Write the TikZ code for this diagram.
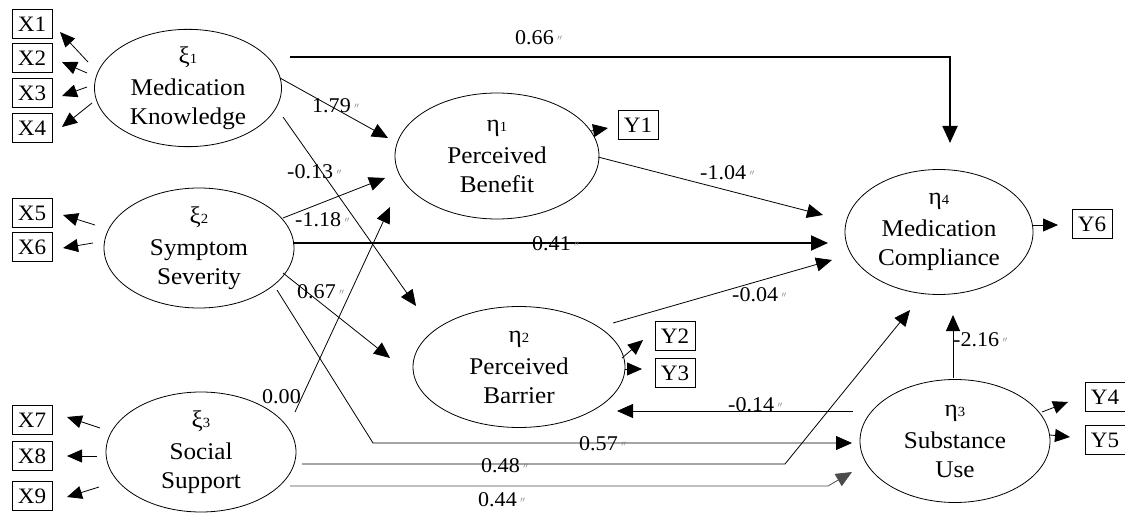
\documentclass[tikz,border=0pt]{standalone}
\usepackage{fontspec}
\setmainfont{Liberation Serif}[FakeStretch=1.05]
\usetikzlibrary{arrows.meta,calc,shapes.geometric}
\newcommand{\lv}[2]{{\fontsize{24}{24}\selectfont #1\fontsize{14}{14}\selectfont #2}}
\newcommand{\sg}{\,{\color{gray}\fontsize{11}{11}\selectfont$''$}}
\begin{document}
\begin{tikzpicture}[x=1pt,y=-1pt,
 lat/.style={ellipse,draw,line width=0.8pt,inner sep=0pt,align=center,font=\fontsize{24}{29}\selectfont},
 obs/.style={draw,line width=0.8pt,minimum width=40pt,minimum height=29pt,inner sep=0pt,font=\fontsize{22}{24}\selectfont},
 arr/.style={line width=0.8pt,-{Triangle[length=16pt,width=14pt]}},
 tarr/.style={line width=1.9pt,-{Triangle[length=17pt,width=15pt]}},
 ind/.style={line width=0.8pt,-{Triangle[length=15pt,width=13pt]}},
 coef/.style={anchor=west,inner sep=0pt,font=\fontsize{21}{22}\selectfont}]
\useasboundingbox (0,0) rectangle (1125,516);
% latent variables
\node[lat,minimum width=187pt,minimum height=112pt] (k1) at (188,88) {\lv{ξ}{1}\\[3pt]Medication\\Knowledge};
\node[lat,minimum width=190pt,minimum height=120pt] (s2) at (199,248) {\lv{ξ}{2}\\[3pt]Symptom\\Severity};
\node[lat,minimum width=190pt,minimum height=120pt] (s3) at (201,452) {\lv{ξ}{3}\\[3pt]Social\\Support};
\node[lat,minimum width=204pt,minimum height=126pt] (b1) at (497,156) {\lv{η}{1}\\[3pt]Perceived\\Benefit};
\node[lat,minimum width=212pt,minimum height=121pt] (b2) at (519,367) {\lv{η}{2}\\[3pt]Perceived\\Barrier};
\node[lat,minimum width=188pt,minimum height=125pt] (c4) at (939,232) {\lv{η}{4}\\[3pt]Medication\\Compliance};
\node[lat,minimum width=190pt,minimum height=123pt] (u3) at (955,441) {\lv{η}{3}\\[3pt]Substance\\Use};
% observed variables
\node[obs] (X1) at (32,24) {X1};
\node[obs] (X2) at (32,58) {X2};
\node[obs] (X3) at (32,93) {X3};
\node[obs] (X4) at (32,128) {X4};
\node[obs] (X5) at (32,213) {X5};
\node[obs] (X6) at (32,247) {X6};
\node[obs] (X7) at (32,420) {X7};
\node[obs] (X8) at (32,456) {X8};
\node[obs] (X9) at (32,496) {X9};
\node[obs] (Y1) at (638,125) {Y1};
\node[obs] (Y2) at (675,336) {Y2};
\node[obs] (Y3) at (675,373) {Y3};
\node[obs] (Y4) at (1105,397) {Y4};
\node[obs] (Y5) at (1105,440) {Y5};
\node[obs] (Y6) at (1092,224) {Y6};
% indicator arrows
\draw[ind] ($(k1)+(-100,-26)$) -- ($(X1)+(28,8)$);
\draw[ind] ($(k1)+(-101,-15)$) -- ($(X2)+(30,4)$);
\draw[ind] ($(k1)+(-101,-1)$) -- ($(X3)+(30,3)$);
\draw[ind] ($(k1)+(-96,15)$) -- ($(X4)+(30,-1)$);
\draw[ind] ($(s2)+(-104,-23)$) -- ($(X5)+(31,2)$);
\draw[ind] ($(s2)+(-106,-5)$) -- ($(X6)+(31,1)$);
\draw[ind] ($(s3)+(-101,-24)$) -- ($(X7)+(35,-3)$);
\draw[ind] ($(s3)+(-104,4)$) -- ($(X8)+(35,0)$);
\draw[ind] ($(s3)+(-102,35)$) -- ($(X9)+(35,1)$);
\draw[ind] ($(b1)+(94,-25)$) -- ($(Y1)+(-30,3)$);
\draw[ind] ($(b2)+(103,-9)$) -- ($(Y2)+(-32,4)$);
\draw[ind] ($(b2)+(106,2)$) -- ($(Y3)+(-33,-4)$);
\draw[ind] ($(u3)+(87,-29)$) -- ($(Y4)+(-37,5)$);
\draw[ind] ($(u3)+(95,-6)$) -- ($(Y5)+(-35,-3)$);
\draw[ind] ($(c4)+(94,-7)$) -- ($(Y6)+(-34,1)$);
% structural paths
\draw[tarr] ($(k1)+(102,-31)$) -| ($(c4)+(11,-89)$);
\draw[arr] ($(k1)+(92,-10)$) -- ($(b1)+(-109,-18)$);
\draw[arr] ($(k1)+(95,29)$) -- ($(b2)+(-103,-61)$);
\draw[arr] ($(s2)+(84,-30)$) -- ($(b1)+(-112,22)$);
\draw[tarr] ($(s2)+(94,-5)$) -- ($(c4)+(-111,11)$);
\draw[arr] ($(s2)+(84,25)$) -- ($(b2)+(-129,-9)$);
\draw[arr] ($(s3)+(94,-40)$) -- ($(b1)+(-107,51)$);
\draw[arr] ($(s2)+(78,42)$) -- (373,443) -- ($(u3)+(-103,2)$);
\draw[arr] ($(s3)+(101,12)$) -- (785,464) -- ($(c4)+(-29,78)$);
\draw[arr,draw=black!70] ($(s3)+(89,34)$) -- (828,486) -- ($(u3)+(-103,31)$);
\draw[arr] ($(b1)+(101,1)$) -- ($(c4)+(-116,-17)$);
\draw[arr] ($(b2)+(94,-44)$) -- ($(c4)+(-107,28)$);
\draw[arr] ($(u3)+(-102,-30)$) -- ($(b2)+(98,44)$);
\draw[arr] ($(u3)+(-2,-63)$) -- ($(c4)+(14,83)$);
% coefficients
\node[coef] (l1) at (515,38) {0.66\sg};
\node[coef] (l2) at (312,106) {1.79\sg};
\node[coef] (l3) at (287,172) {-0.13\sg};
\node[coef] (l4) at (295,220) {-1.18\sg};
\node[coef] (l5) at (297,292) {0.67\sg};
\node[coef] (l6) at (532,244) {0.41\sg};
\node[coef] (l7) at (700,173) {-1.04\sg};
\node[coef] (l8) at (732,295) {-0.04\sg};
\node[coef] (l9) at (262,397) {0.00};
\node[coef] (l10) at (728,405) {-0.14\sg};
\node[coef] (l11) at (579,444) {0.57\sg};
\node[coef] (l12) at (481,466) {0.48\sg};
\node[coef] (l13) at (478,500) {0.44\sg};
\node[coef] (l14) at (953,340) {-2.16\sg};
\end{tikzpicture}
\end{document}
